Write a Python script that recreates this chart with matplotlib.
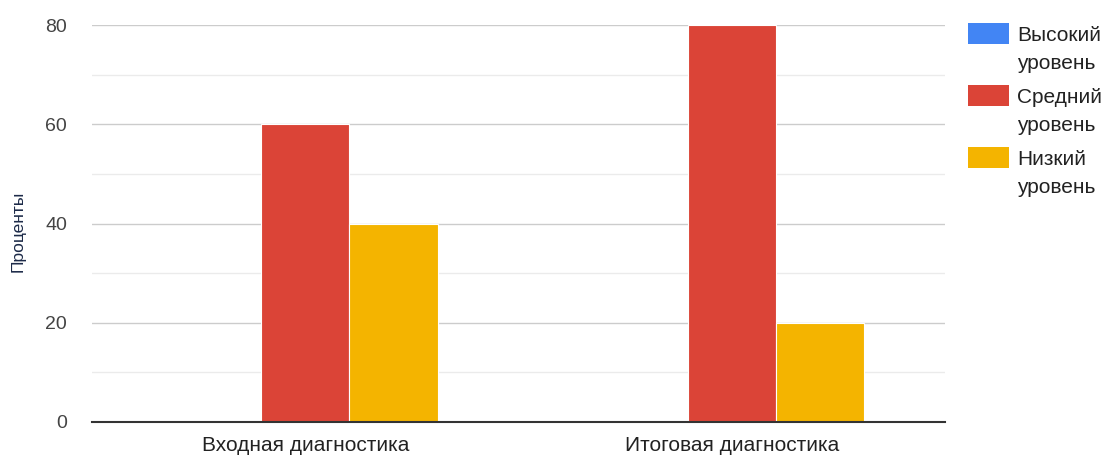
import matplotlib
matplotlib.use('Agg')
import matplotlib.pyplot as plt
from matplotlib.patches import Rectangle
import numpy as np

plt.rcParams['font.family'] = ['Liberation Sans', 'DejaVu Sans']

categories = ['Входная диагностика', 'Итоговая диагностика']
series_names = ['Высокий\nуровень', 'Средний\nуровень', 'Низкий\nуровень']
series_values = [
    [0, 0],     # высокий
    [60, 80],   # средний
    [40, 20],   # низкий
]
colors = ['#4285f4', '#db4437', '#f4b400']
y_major = [0, 20, 40, 60, 80]
y_minor = [10, 30, 50, 70]

W, H = 1104, 457
fig = plt.figure(figsize=(W / 100, H / 100), dpi=100)
ax = fig.add_axes([92 / W, 1 - 422 / H, (945 - 92) / W, (422 - 25) / H])

x = np.arange(len(categories))
step, width = 0.207, 0.207
for i, (vals, c) in enumerate(zip(series_values, colors)):
    ax.bar(x + (i - 1) * step, vals, width=width, color=c,
           edgecolor='white', linewidth=0.8, zorder=3)

ax.set_xlim(-0.5, len(categories) - 0.5)
ax.set_ylim(0, 80)
ax.set_yticks(y_major)
ax.set_yticks(y_minor, minor=True)
ax.grid(axis='y', which='major', color='#cccccc', linewidth=1, zorder=0)
ax.grid(axis='y', which='minor', color='#ebebeb', linewidth=1, zorder=0)
ax.axhline(0, color='#333333', linewidth=1.5, zorder=4, clip_on=False)
for s in ax.spines.values():
    s.set_visible(False)

ax.set_xticks(x)
ax.set_xticklabels(categories, fontsize=15, color='#222222')
ax.tick_params(axis='x', length=0, pad=10)
ax.tick_params(axis='y', which='both', length=0, pad=18, labelsize=14,
               labelcolor='#444444')

fig.text(18 / W, 1 - 231 / H, 'Проценты', rotation=90, ha='center', va='center',
         fontsize=12.5, color='#1c2a48')

# legend drawn by hand so each swatch lines up with the first text line
for i, (name, c) in enumerate(zip(series_names, colors)):
    top = 23 + i * 62
    fig.patches.append(Rectangle((968 / W, 1 - (top + 21) / H), 41 / W, 21 / H,
                                 transform=fig.transFigure, facecolor=c,
                                 edgecolor='none'))
    fig.text(1017 / W, 1 - (top + 3) / H, name, ha='left', va='top',
             fontsize=15, color='#222222', linespacing=1.6)

fig.savefig('out.png', dpi=100)
